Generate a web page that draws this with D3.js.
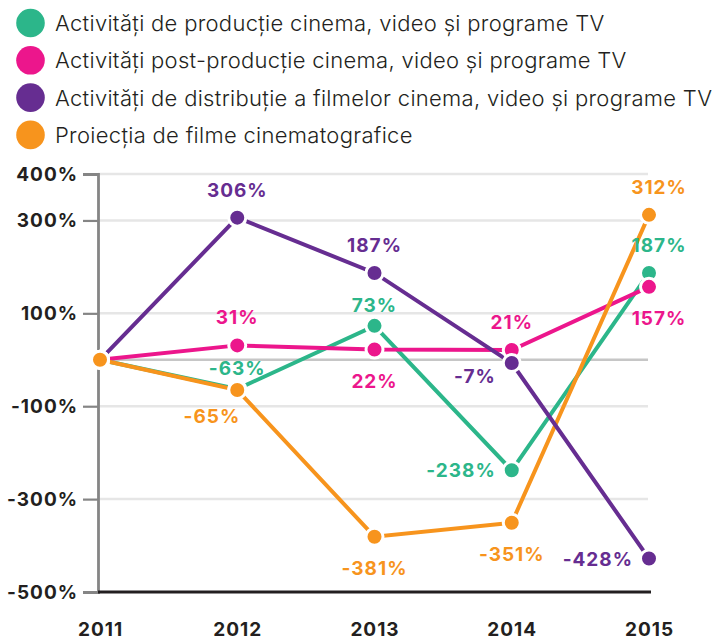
<!DOCTYPE html>
<html lang="ro">
<head>
  <meta charset="UTF-8">
  <title>Evoluție activități cinema</title>
  <script src="https://d3js.org/d3.v7.min.js"></script>
  <style>
    body { margin: 0; background: #fff; }
    text { font-family: Inter, "Open Sans", sans-serif; }
    .legend-label { font-size: 22px; font-weight: 300; fill: #231f20; letter-spacing: 0.3px; }
    .axis text { font-size: 19px; font-weight: 700; fill: #231f20; letter-spacing: 1px; }
    .value-label { font-size: 19px; font-weight: 700; letter-spacing: 1px; }
  </style>
</head>
<body>
  <div id="chart"></div>

  <script>
    // Data
    const years = ["2011", "2012", "2013", "2014", "2015"];
    const seriesNames = [
      "Activități de producție cinema, video și programe TV",
      "Activități post-producție cinema, video și programe TV",
      "Activități de distribuție a filmelor cinema, video și programe TV",
      "Proiecția de filme cinematografice"
    ];
    const productie = [0, -63, 73, -238, 187];
    const postProductie = [0, 31, 22, 21, 157];
    const distributie = [0, 306, 187, -7, -428];
    const proiectie = [0, -65, -381, -351, 312];
    const yTicks = [400, 300, 100, -100, -300, -500];

    // where each value label sits relative to its point (null = no label)
    const productieLabels = [null, "near", "near", "left", "above"];
    const postProductieLabels = [null, "above", "below", "above", "below"];
    const distributieLabels = [null, "above", "above", "lowleft", "left"];
    const proiectieLabels = [null, "belowleft", "below", "below", "above"];

    const colors = ["#2cb68a", "#ec168c", "#662d91", "#f7941d"];

    const series = [
      { name: seriesNames[0], values: productie, labels: productieLabels, color: colors[0] },
      { name: seriesNames[1], values: postProductie, labels: postProductieLabels, color: colors[1] },
      { name: seriesNames[2], values: distributie, labels: distributieLabels, color: colors[2] },
      { name: seriesNames[3], values: proiectie, labels: proiectieLabels, color: colors[3] }
    ];

    const W = 713, H = 638;
    const svg = d3.select("#chart").append("svg")
      .attr("width", W)
      .attr("height", H);

    const x = d3.scalePoint().domain(years).range([100, 649]);
    const y = d3.scaleLinear().domain([-500, 400]).range([592, 174]);
    const axisX = 98, gridEnd = 648;

    // Legend
    const legend = svg.append("g").selectAll("g")
      .data(series)
      .enter().append("g")
      .attr("transform", (d, i) => `translate(0,${23 + i * 37.3})`);
    legend.append("circle")
      .attr("cx", 30.5).attr("cy", 0).attr("r", 14.3)
      .attr("fill", d => d.color);
    legend.append("text")
      .attr("class", "legend-label")
      .attr("x", 55).attr("y", 8)
      .text(d => d.name);

    // Gridlines
    svg.append("g").selectAll("line")
      .data(yTicks.filter(t => t !== -500))
      .enter().append("line")
      .attr("x1", axisX).attr("x2", gridEnd)
      .attr("y1", d => y(d)).attr("y2", d => y(d))
      .attr("stroke", "#e6e6e6")
      .attr("stroke-width", 2.5);
    svg.append("line")
      .attr("x1", axisX).attr("x2", gridEnd)
      .attr("y1", y(0)).attr("y2", y(0))
      .attr("stroke", "#c6c6c6")
      .attr("stroke-width", 2.5);

    // Y axis
    const yAxis = svg.append("g")
      .attr("class", "axis")
      .attr("transform", `translate(${axisX},0)`)
      .call(d3.axisLeft(y).tickValues(yTicks).tickFormat(d => d + "%").tickSize(15).tickPadding(5));
    yAxis.select(".domain").attr("stroke", "#858585").attr("stroke-width", 2.8);
    yAxis.selectAll(".tick line").attr("stroke", "#858585").attr("stroke-width", 2.2);

    // X axis (baseline)
    svg.append("line")
      .attr("x1", axisX).attr("x2", 651)
      .attr("y1", y(-500)).attr("y2", y(-500))
      .attr("stroke", "#231f20")
      .attr("stroke-width", 3);
    const xAxis = svg.append("g")
      .attr("class", "axis")
      .attr("transform", `translate(0,${y(-500)})`)
      .call(d3.axisBottom(x).tickSize(0).tickPadding(31));
    xAxis.select(".domain").remove();

    // Lines
    const line = d3.line()
      .x((d, i) => x(years[i]))
      .y(d => y(d));
    const lineOrder = [0, 1, 3, 2];
    svg.append("g").selectAll("path")
      .data(lineOrder.map(i => series[i]))
      .enter().append("path")
      .attr("d", d => line(d.values))
      .attr("fill", "none")
      .attr("stroke", d => d.color)
      .attr("stroke-width", 4);

    // Markers
    series.forEach(s => {
      svg.append("g").selectAll("circle")
        .data(s.values)
        .enter().append("circle")
        .attr("cx", (d, i) => x(years[i]))
        .attr("cy", d => y(d))
        .attr("r", 8.5)
        .attr("fill", s.color)
        .attr("stroke", "#fff")
        .attr("stroke-width", 3);
    });

    // Value labels
    const place = {
      above:     { dx: 0,   dy: -21, anchor: "middle" },
      near:      { dx: 0,   dy: -14, anchor: "middle" },
      below:     { dx: 0,   dy: 38,  anchor: "middle" },
      left:      { dx: -16, dy: 7,   anchor: "end" },
      lowleft:   { dx: -16, dy: 20,  anchor: "end" },
      belowleft: { dx: 3,   dy: 33,  anchor: "end" }
    };
    series.forEach(s => {
      svg.append("g").selectAll("text")
        .data(s.values.map((v, i) => ({ v, i, pos: s.labels[i] })).filter(d => d.pos))
        .enter().append("text")
        .attr("class", "value-label")
        .attr("x", d => x(years[d.i]) + place[d.pos].dx + (d.i === years.length - 1 && place[d.pos].anchor === "middle" ? 10 : 0))
        .attr("y", d => y(d.v) + place[d.pos].dy)
        .attr("text-anchor", d => place[d.pos].anchor)
        .attr("fill", s.color)
        .text(d => d.v + "%");
    });
  </script>
</body>
</html>
